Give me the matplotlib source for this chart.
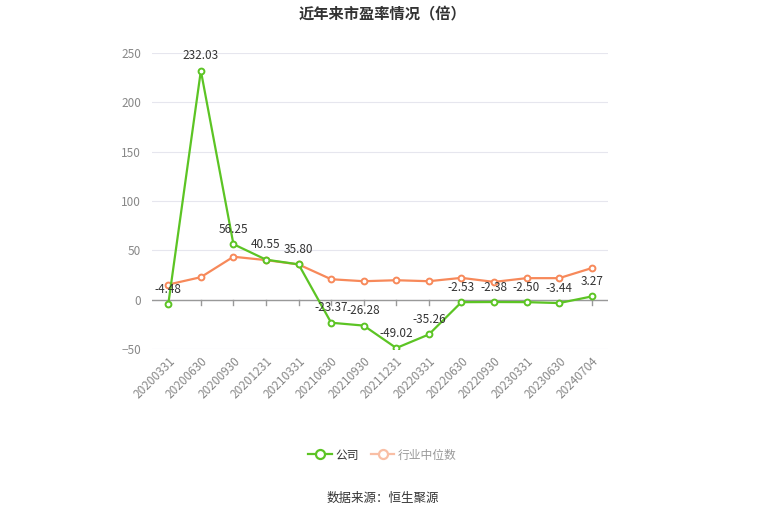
import matplotlib.pyplot as plt
from matplotlib.lines import Line2D

plt.rcParams['font.family'] = ['Noto Sans CJK SC', 'DejaVu Sans']

dates = ["20200331", "20200630", "20200930", "20201231", "20210331", "20210630",
         "20210930", "20211231", "20220331", "20220630", "20220930", "20230331",
         "20230630", "20240704"]
company = [-4.48, 232.03, 56.25, 40.55, 35.80, -23.37, -26.28, -49.02, -35.26,
           -2.53, -2.38, -2.50, -3.44, 3.27]
industry = [15.3, 22.8, 43.5, 40.1, 35.7, 20.7, 18.7, 19.7, 18.7, 22.1, 18.0,
            21.8, 21.8, 32.0]

green = "#5cc424"
orange = "#f7895a"

fig = plt.figure(figsize=(7.65, 5.17), dpi=100)
ax = fig.add_axes([152 / 765, 1 - 349 / 517, (608 - 152) / 765, (349 - 53) / 517])

x = list(range(len(dates)))
ax.plot(x, industry, color=orange, lw=1.6, marker="o", ms=4.2,
        mfc="white", mec=orange, mew=1.4, zorder=3)
ax.plot(x, company, color=green, lw=1.6, marker="o", ms=4.2,
        mfc="white", mec=green, mew=1.4, zorder=4)

for xi, v in zip(x, company):
    ax.annotate(f"{v:.2f}", (xi, v), xytext=(0, 6), textcoords="offset points",
                ha="center", va="bottom", fontsize=8.5, color="#333333", zorder=5)

ax.set_xlim(-0.5, len(dates) - 0.5)
ax.set_ylim(-50, 250)
ax.set_yticks([-50, 0, 50, 100, 150, 200, 250])
ax.grid(axis="y", color="#e6e6ee", lw=0.8)
ax.set_axisbelow(True)
for s in ["top", "right", "left", "bottom"]:
    ax.spines[s].set_visible(False)
ax.axhline(0, color="#999999", lw=1, zorder=2)

ax.set_xticks(x)
ax.set_xticklabels(dates, rotation=45, ha="right", rotation_mode="anchor",
                   fontsize=8.5, color="#888888")
ax.tick_params(axis="x", length=0, pad=4)
ax.tick_params(axis="y", length=0, labelsize=8.5, labelcolor="#888888", pad=8)
for xi in x:
    ax.plot([xi, xi], [0, -5], color="#999999", lw=1, zorder=2, clip_on=False)

fig.text(0.5, 1 - 13 / 517, "近年来市盈率情况（倍）", ha="center", va="center",
         fontsize=11, fontweight="bold", color="#333333")

handles = [
    Line2D([], [], color=green, lw=1.6, marker="o", ms=6.5, mfc="white", mec=green, mew=1.6),
    Line2D([], [], color="#f9bfa5", lw=1.6, marker="o", ms=6.5, mfc="white", mec="#f9bfa5", mew=1.6),
]
leg = fig.legend(handles, ["公司", "行业中位数"], loc="center", bbox_to_anchor=(0.5, 1 - 455 / 517),
                 ncol=2, frameon=False, fontsize=8.5, handlelength=2.0, columnspacing=1.0,
                 handletextpad=0.3)
leg.get_texts()[0].set_color("#333333")
leg.get_texts()[1].set_color("#999999")

fig.text(0.5, 1 - 498 / 517, "数据来源：恒生聚源", ha="center", va="center",
         fontsize=9, color="#333333")

fig.savefig("out.png", dpi=100)
